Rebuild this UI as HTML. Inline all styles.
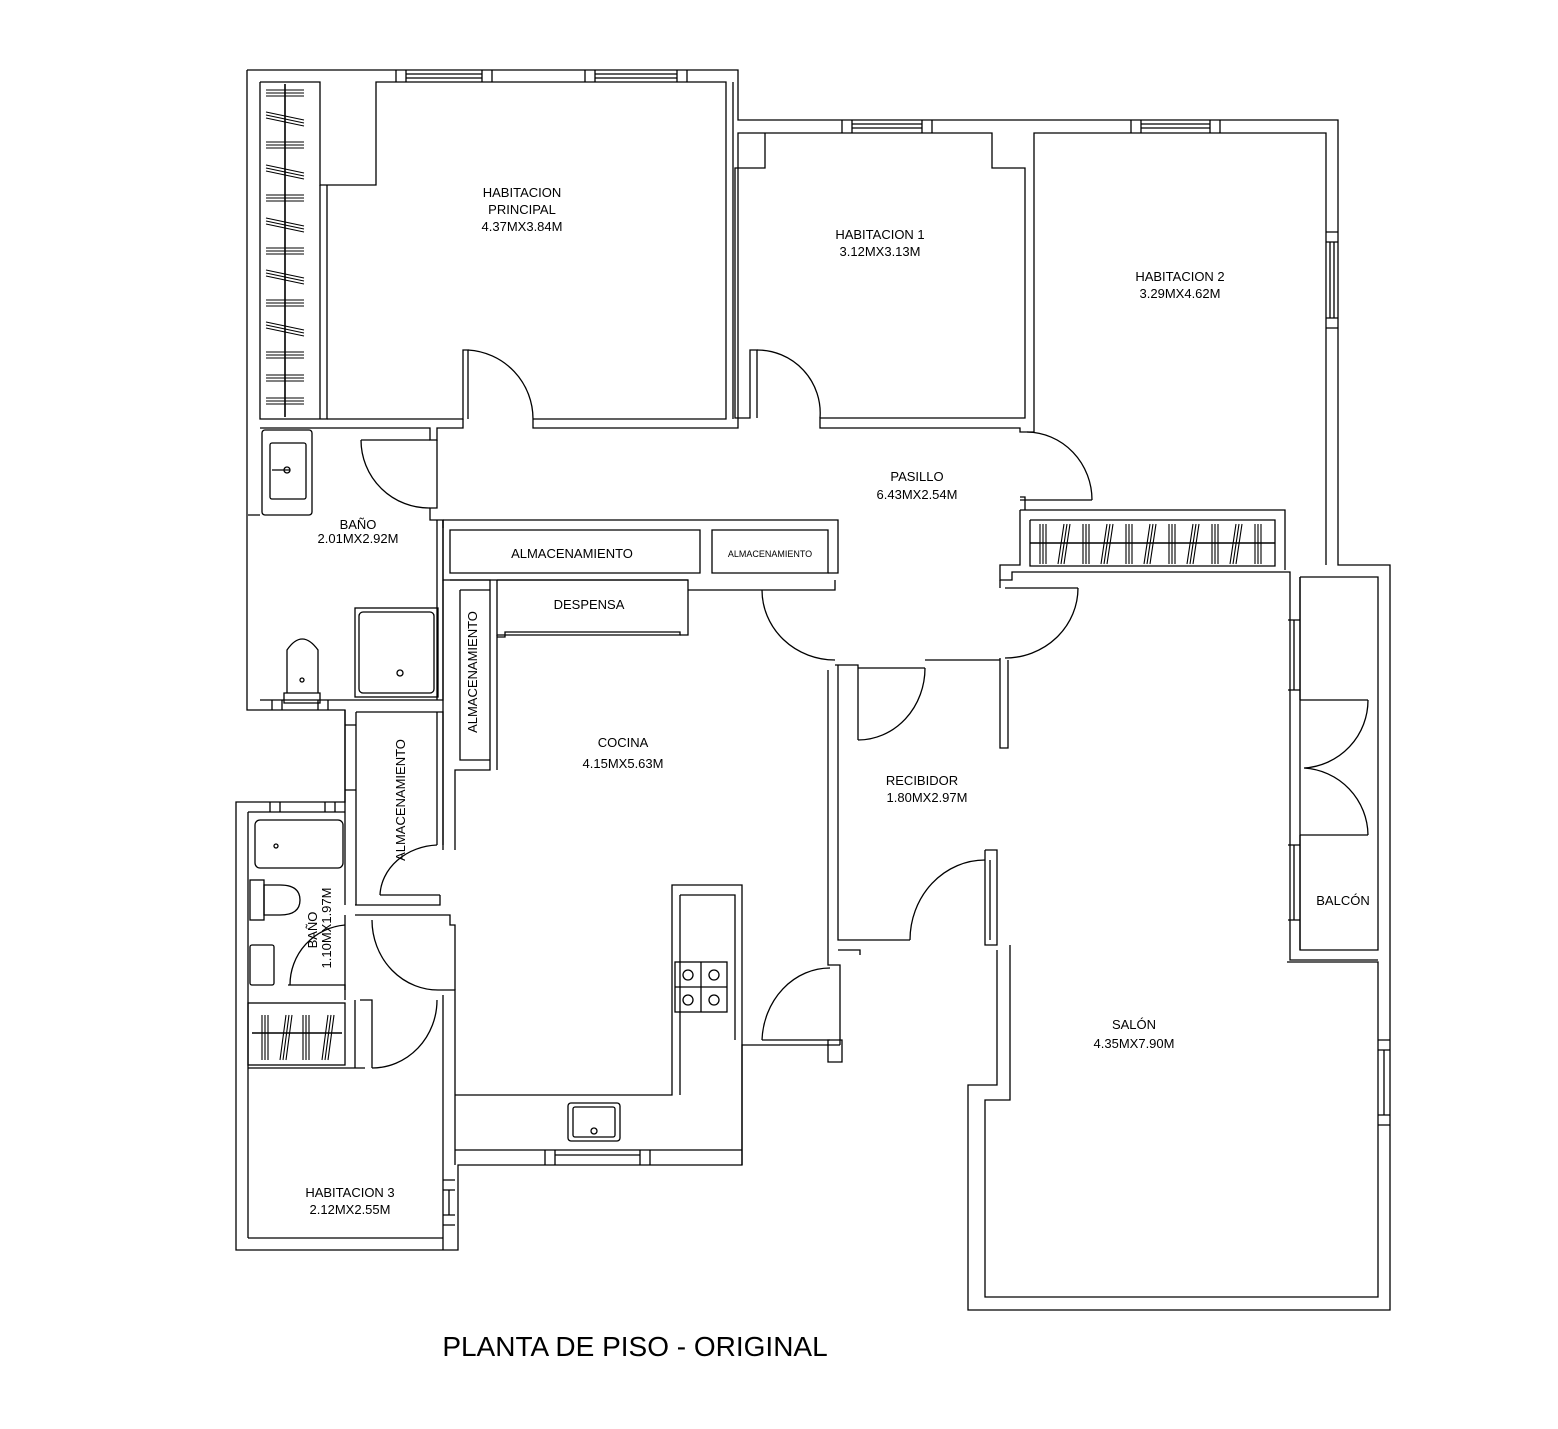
<!DOCTYPE html>
<html><head><meta charset="utf-8"><style>
html,body{margin:0;padding:0;background:#fff;}
svg{display:block;}
text{font-family:"Liberation Sans",sans-serif;fill:#000;}
</style></head><body>
<svg width="1558" height="1429" viewBox="0 0 1558 1429" xmlns="http://www.w3.org/2000/svg">
<g fill="none" stroke="#000" stroke-width="1.3">
<path d="M247,70 H738 V120 H1338 V565 H1390 V1310 H968 V1085 H997 V950"/>
<path d="M247,70 V710 H345 V802 H236 V1250 H458 V1165 H742 V1045 H840"/>
<path d="M396,70V82M406,70V82M482,70V82M492,70V82M406,74H482M406,78H482"/>
<path d="M585,70V82M595,70V82M677,70V82M687,70V82M595,74H677M595,78H677"/>
<path d="M842,120V133M852,120V133M922,120V133M932,120V133M852,124H922M852,128H922"/>
<path d="M1131,120V133M1141,120V133M1210,120V133M1220,120V133M1141,124H1210M1141,128H1210"/>
<path d="M1326,232H1338M1326,242H1338M1326,318H1338M1326,328H1338M1330,242V318M1334,242V318"/>
<path d="M260,82H320V185H376V82H726V419H533"/>
<path d="M260,82V419H327V185"/>
<path d="M320,185V419"/>
<path d="M285,84V417" stroke-width="1.6"/>
<path d="M327,419H463V350H468V419"/>
<path d="M468,350 A69,69 0 0 1 533,419"/>
<path d="M533,419V428H738V133H765"/>
<path d="M733,82V419"/>
<path d="M260,428H430V440H437V428H463V419"/>
<path d="M765,133V168H735V418H750V350H757V418"/>
<path d="M757,350 A63,63 0 0 1 820,418"/>
<path d="M765,133H992V168H1025V418H820V428H1020V432H1034V133H1326V565"/>
<path d="M1027,432 A66,68 0 0 1 1092,500"/>
<path d="M1020,500H1092M1020,497H1025V510"/>
<path d="M1020,510H1285V570M1030,520H1275V566H1030V520"/>
<path d="M1020,510V565H1000V580H1012V572H1290V960H1378M1300,577H1378V950H1300V577"/>
<path d="M1300,577V700M1300,835V950M1288,620H1300M1288,690H1300M1288,845H1300M1288,920H1300M1294,620V690M1294,845V920"/>
<path d="M1030,543H1275" stroke-width="1.6"/>
<path d="M1300,700H1368M1300,835H1368"/>
<path d="M1368,700 A68,68 0 0 1 1304,768M1368,835 A68,68 0 0 0 1304,768"/>
<path d="M1287,962H1378V1297H985V1100H1010V945"/>
<path d="M1378,1040H1390M1378,1050H1390M1378,1115H1390M1378,1125H1390M1384,1050V1115"/>
<path d="M437,440 V508H430V520H443V528"/>
<path d="M361,440H430"/>
<path d="M361,440 A68,68 0 0 0 430,508"/>
<path d="M443,520H838V573H828M443,520V580H688V635H680"/>
<path d="M450,530H700V573H450Z M712,530H828V573H712Z"/>
<path d="M497,580H688 M497,580V635H680V632H505V637H497"/>
<path d="M688,590H762M762,590H835V580"/>
<path d="M762,590 A73,70 0 0 0 835,660"/>
<path d="M835,665H858V740M858,668H925M925,660H1000V748H1008V660"/>
<path d="M858,740 A67,72 0 0 0 925,668"/>
<path d="M1005,588H1078M1000,588V580"/>
<path d="M1078,588 A73,70 0 0 1 1005,658"/>
<path d="M1000,658V660"/>
<path d="M828,670V965H840V1045M838,665V940H910M838,950H860V955"/>
<path d="M910,940 A75,80 0 0 1 985,860"/>
<path d="M985,850V945H997V850H985M990,860V940"/>
<path d="M762,1040H830M742,1045V1165"/>
<path d="M762,1040 A68,75 0 0 1 830,968"/>
<path d="M828,1040H842V1062H828Z"/>
<path d="M450,580H490V770H455V850M443,580V850M460,590H490V760H460V590"/>
<path d="M497,635V770"/>
<path d="M455,1095H672V885H742V1045M680,895H735V1040M680,895V1095"/>
<path d="M455,1150H742M545,1150V1165M555,1150V1165M640,1150V1165M650,1150V1165M555,1155H640"/>
<rect x="568" y="1103" width="52" height="38" rx="3"/>
<rect x="573" y="1107" width="42" height="30" rx="2"/>
<circle cx="594" cy="1131" r="3"/>
<rect x="675" y="962" width="52" height="50"/>
<path d="M701,962V1012M675,987H727"/>
<circle cx="688" cy="975" r="5"/><circle cx="714" cy="975" r="5"/><circle cx="688" cy="1000" r="5"/><circle cx="714" cy="1000" r="5"/>
<rect x="262" y="430" width="50" height="85" rx="3"/>
<rect x="270" y="443" width="36" height="56" rx="2"/>
<path d="M272,470H290"/><circle cx="287" cy="470" r="3"/>
<path d="M260,515H248M437,520V700M443,520V700H356"/>
<rect x="355" y="608" width="83" height="89"/>
<rect x="359" y="612" width="75" height="81" rx="4"/>
<circle cx="400" cy="673" r="3"/>
<path d="M287,693V650Q302,628 318,650V693Z M284,693H320V703H284Z"/>
<circle cx="302" cy="680" r="2"/>
<path d="M260,700H356M272,700V710M282,700V710M318,700V710M328,700V710"/>
<path d="M345,710V905M356,712H443V845M356,712V905"/>
<path d="M437,712V845"/>
<path d="M345,725H356M345,790H356"/>
<path d="M248,812H345M270,802V812M280,802V812M325,802V812M335,802V812"/>
<path d="M248,812V1238"/>
<rect x="255" y="820" width="88" height="48" rx="5"/>
<circle cx="276" cy="846" r="2"/>
<rect x="250" y="880" width="14" height="40"/>
<path d="M264,885H280Q300,885 300,900Q300,915 280,915H264Z"/>
<rect x="250" y="945" width="24" height="40" rx="2"/>
<path d="M288,985H345V990M290,985 A60,60 0 0 1 345,925"/>
<path d="M355,905H440V895M380,895H440"/>
<path d="M380,895 A60,52 0 0 1 437,845"/>
<path d="M355,915H450V925H455V990M372,915H440"/>
<path d="M372,920 A66,70 0 0 0 440,990"/>
<path d="M440,990H455V1165M443,995V1250"/>
<path d="M345,915V1000M355,1000V1068M360,1000H372V1068"/>
<path d="M372,1068 A65,68 0 0 0 437,1000"/>
<rect x="248" y="1003" width="97" height="62"/>
<path d="M248,1068H365V1068M248,1238H443"/>
<path d="M443,1180H455M443,1190H455M443,1215H455M443,1225H455M449,1190V1215"/>
<path d="M252,1033H342" stroke-width="1.6"/>
</g>
<g stroke="#000" stroke-width="1.1">
<path d="M266,90H304M266,93H304M266,96H304 M266,142H304M266,145H304M266,148H304 M266,195H304M266,198H304M266,201H304 M266,248H304M266,251H304M266,254H304 M266,300H304M266,303H304M266,306H304 M266,352H304M266,355H304M266,358H304 M266,375H304M266,378H304M266,381H304 M266,398H304M266,401H304M266,404H304"/>
<path d="M266,112L304,120M266,115L304,123M266,118L304,126 M266,165L304,173M266,168L304,176M266,171L304,179 M266,218L304,226M266,221L304,229M266,224L304,232 M266,270L304,278M266,273L304,281M266,276L304,284 M266,322L304,330M266,325L304,333M266,328L304,336"/>
<path d="M1040,524V564M1043,524V564M1046,524V564 M1083,524V564M1086,524V564M1089,524V564 M1126,524V564M1129,524V564M1132,524V564 M1169,524V564M1172,524V564M1175,524V564 M1212,524V564M1215,524V564M1218,524V564 M1255,524V564M1258,524V564M1261,524V564"/>
<path d="M1058,564L1064,524M1061,564L1067,524M1064,564L1070,524 M1101,564L1107,524M1104,564L1110,524M1107,564L1113,524 M1144,564L1150,524M1147,564L1153,524M1150,564L1156,524 M1187,564L1193,524M1190,564L1196,524M1193,564L1199,524 M1230,564L1236,524M1233,564L1239,524M1236,564L1242,524"/>
<path d="M262,1015V1060M265,1015V1060M268,1015V1060 M303,1015V1060M306,1015V1060M309,1015V1060"/>
<path d="M280,1060L286,1015M283,1060L289,1015M286,1060L292,1015 M322,1060L328,1015M325,1060L331,1015M328,1060L334,1015"/>
</g>
<g font-size="13" text-anchor="middle">
<text x="522" y="197">HABITACION</text>
<text x="522" y="214">PRINCIPAL</text>
<text x="522" y="231">4.37MX3.84M</text>
<text x="880" y="239">HABITACION 1</text>
<text x="880" y="256">3.12MX3.13M</text>
<text x="1180" y="281">HABITACION 2</text>
<text x="1180" y="298">3.29MX4.62M</text>
<text x="917" y="481">PASILLO</text>
<text x="917" y="499">6.43MX2.54M</text>
<text x="358" y="529">BAÑO</text>
<text x="358" y="543">2.01MX2.92M</text>
<text x="572" y="558">ALMACENAMIENTO</text>
<text x="770" y="557" font-size="9">ALMACENAMIENTO</text>
<text x="589" y="609">DESPENSA</text>
<text x="623" y="747">COCINA</text>
<text x="623" y="768">4.15MX5.63M</text>
<text x="922" y="785">RECIBIDOR</text>
<text x="927" y="802">1.80MX2.97M</text>
<text x="1343" y="905">BALCÓN</text>
<text x="1134" y="1029">SALÓN</text>
<text x="1134" y="1048">4.35MX7.90M</text>
<text x="350" y="1197">HABITACION 3</text>
<text x="350" y="1214">2.12MX2.55M</text>
<text transform="translate(477,672) rotate(-90)">ALMACENAMIENTO</text>
<text transform="translate(405,800) rotate(-90)">ALMACENAMIENTO</text>
<text transform="translate(317,930) rotate(-90)">BAÑO</text>
<text transform="translate(331,928) rotate(-90)">1.10MX1.97M</text>
<text x="635" y="1356" font-size="28">PLANTA DE PISO - ORIGINAL</text>
</g>
</svg>
</body></html>
